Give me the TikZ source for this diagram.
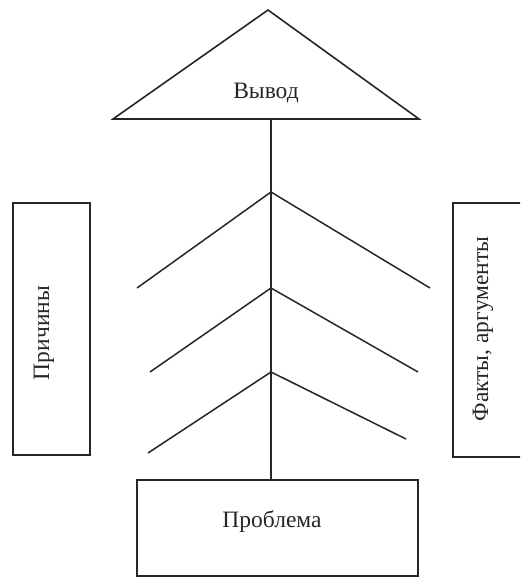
\documentclass[tikz,border=0pt]{standalone}
\usepackage{fontspec}
\setmainfont{Liberation Serif}
\usepackage{xcolor}
\usetikzlibrary{positioning}
\definecolor{DGInk}{HTML}{262626}
\tikzset{
  boxline/.style={draw=DGInk,line width=1.6pt},
  branch/.style={draw=DGInk,line width=1.5pt},
  labeltext/.style={font=\fontsize{23.5}{27}\selectfont,text=DGInk,inner sep=0pt},
}
\begin{document}
\begin{tikzpicture}[x=1pt,y=-1pt]
\path[use as bounding box] (0,0) rectangle (520,578);
\clip (0,0) rectangle (520,578);
% conclusion triangle
\coordinate (apex) at (268,10);
\coordinate (baseL) at (113,119);
\coordinate (baseR) at (419,119);
\coordinate (baseM) at (271,119);
\draw[boxline,line join=miter] (apex) -- (baseR) -- (baseL) -- cycle;
\node[labeltext] (vyvod) at (266,93) {Вывод};
% side boxes
\draw[boxline] (13,203) rectangle (90,455);
\node[labeltext,rotate=90] (prichiny) at (44,333) {Причины};
\draw[boxline] (530,203) -- (453,203) -- (453,457) -- (530,457);
\node[labeltext,rotate=90] (fakty) at (483,329) {Факты, аргументы};
% problem box
\node[boxline,minimum width=281pt,minimum height=96pt] (problema) at (277.5,528) {};
\node[labeltext] (problemtext) at (272,522) {Проблема};
% spine
\draw[branch] (baseM) -- (baseM |- problema.north);
% branches
\coordinate (j1) at (271,192);
\coordinate (j2) at (271,288);
\coordinate (j3) at (271,372);
\coordinate (l1) at (137,288);
\coordinate (r1) at (430,288);
\coordinate (l2) at (150,372);
\coordinate (r2) at (418,372);
\coordinate (l3) at (148,453);
\coordinate (r3) at (406,439);
\draw[branch] (l1) -- (j1) -- (r1);
\draw[branch] (l2) -- (j2) -- (r2);
\draw[branch] (l3) -- (j3) -- (r3);
\end{tikzpicture}
\end{document}
